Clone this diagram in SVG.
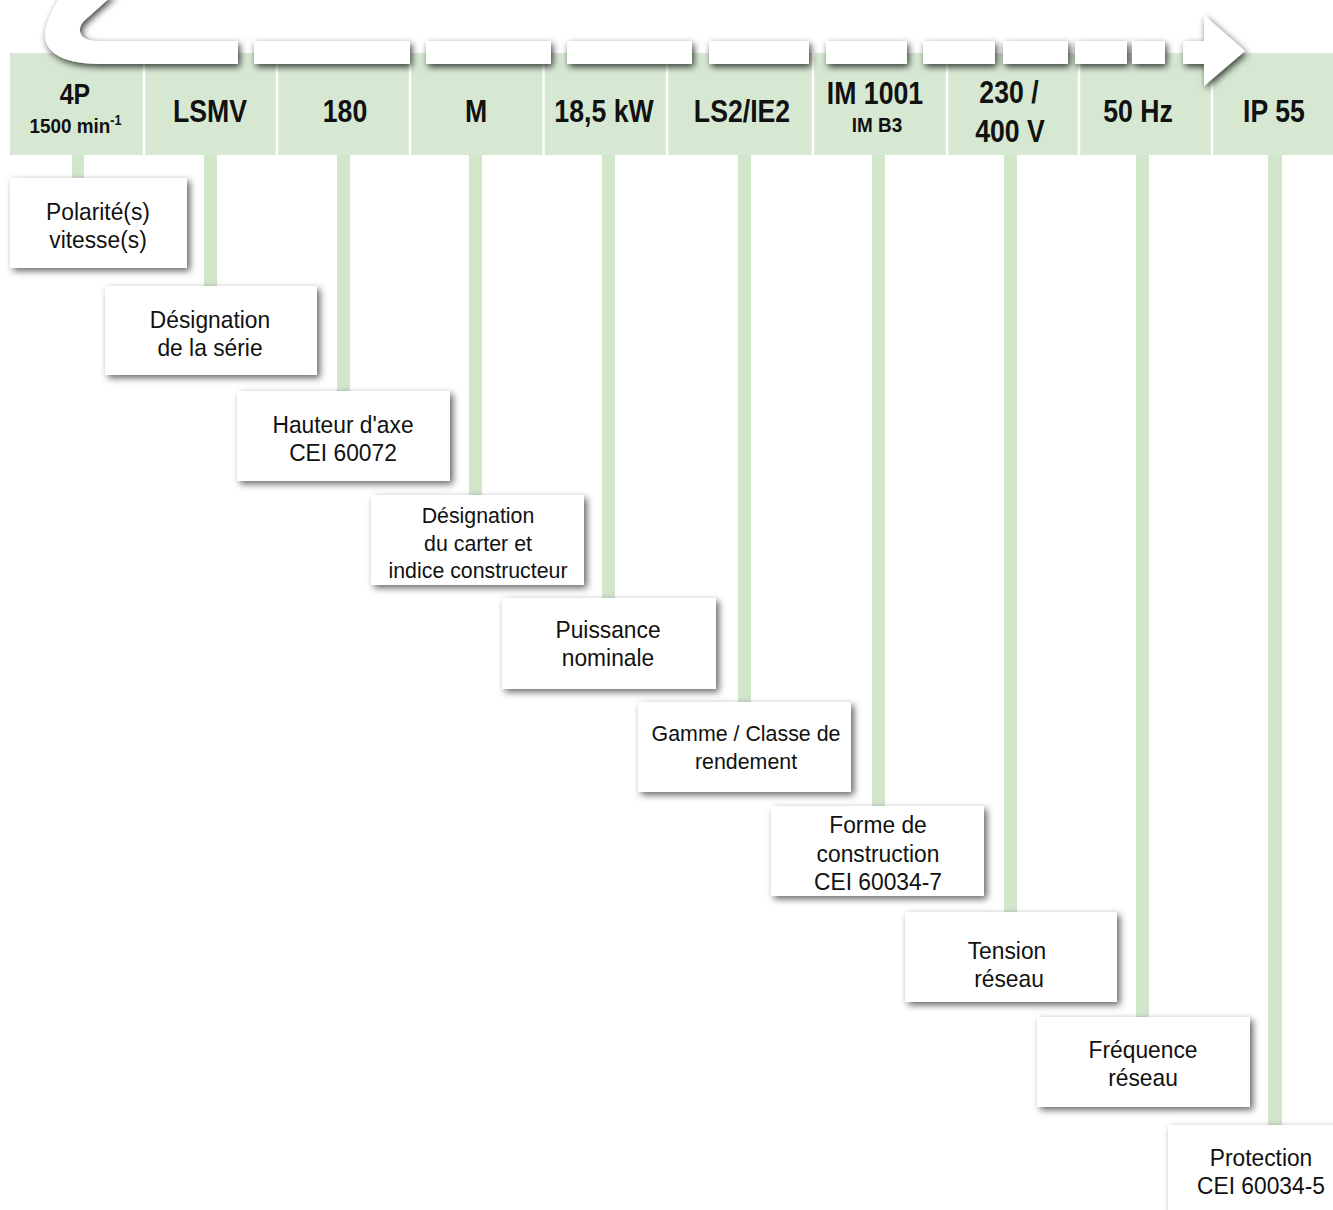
<svg xmlns="http://www.w3.org/2000/svg" width="1333" height="1210" viewBox="0 0 1333 1210">
<defs>
<filter id="sh" x="-20%" y="-40%" width="140%" height="180%">
<feDropShadow dx="3" dy="3" stdDeviation="3.5" flood-color="#000" flood-opacity="0.6"/>
</filter>
<filter id="sha" x="-20%" y="-80%" width="140%" height="260%">
<feDropShadow dx="2" dy="3" stdDeviation="3.5" flood-color="#000" flood-opacity="0.75"/>
</filter>
<style>
.cell{fill:#d6e8d2}
.sep{stroke:#ffffff;stroke-width:2.5}
.bar{fill:#d2e6cc}
.box{fill:#ffffff;filter:url(#sh)}
.seg{fill:#ffffff}
.h{font-family:"Liberation Sans",Arial,sans-serif;font-weight:bold;font-size:31px;fill:#111;text-anchor:middle}
.hs{font-family:"Liberation Sans",Arial,sans-serif;font-weight:bold;font-size:21px;fill:#111;text-anchor:middle}
.t{font-family:"Liberation Sans",Arial,sans-serif;font-size:24px;fill:#111;text-anchor:middle}
.ts{font-family:"Liberation Sans",Arial,sans-serif;font-size:22px;fill:#111;text-anchor:middle}
</style>
</defs>
<rect width="1333" height="1210" fill="#ffffff"/>

<g id="header">
<rect class="cell" x="10" y="53" width="1323" height="102"/>
<line class="sep" x1="144" y1="53" x2="144" y2="155"/>
<line class="sep" x1="277" y1="53" x2="277" y2="155"/>
<line class="sep" x1="410" y1="53" x2="410" y2="155"/>
<line class="sep" x1="543.5" y1="53" x2="543.5" y2="155"/>
<line class="sep" x1="667" y1="53" x2="667" y2="155"/>
<line class="sep" x1="813" y1="53" x2="813" y2="155"/>
<line class="sep" x1="947" y1="53" x2="947" y2="155"/>
<line class="sep" x1="1079" y1="53" x2="1079" y2="155"/>
<line class="sep" x1="1212" y1="53" x2="1212" y2="155"/>
</g>

<g id="connectors">
<rect class="bar" x="72" y="155" width="12" height="25"/>
<rect class="bar" x="204" y="155" width="13" height="133"/>
<rect class="bar" x="337" y="155" width="13" height="238"/>
<rect class="bar" x="469" y="155" width="13" height="342"/>
<rect class="bar" x="602" y="155" width="13" height="445"/>
<rect class="bar" x="738" y="155" width="13" height="549"/>
<rect class="bar" x="872" y="155" width="13" height="653"/>
<rect class="bar" x="1004" y="155" width="13" height="759"/>
<rect class="bar" x="1136" y="155" width="13" height="864"/>
<rect class="bar" x="1268" y="155" width="14" height="972"/>
</g>

<g id="arrow" filter="url(#sha)">
<path class="seg" d="M 238,64 L 100,64 C 60,64 40,50 46,28 C 48,18 54,8 61,-6 L 114,-6 L 85,20 C 75,29 80,41 96,41 L 238,41 Z"/>
<rect class="seg" x="254" y="41" width="156" height="23"/>
<rect class="seg" x="426" y="41" width="125" height="23"/>
<rect class="seg" x="567" y="41" width="125" height="23"/>
<rect class="seg" x="709" y="41" width="100" height="23"/>
<rect class="seg" x="826" y="41" width="81" height="23"/>
<rect class="seg" x="923" y="41" width="72" height="23"/>
<rect class="seg" x="1003" y="41" width="65" height="23"/>
<rect class="seg" x="1075" y="41" width="52" height="23"/>
<rect class="seg" x="1132" y="41" width="33" height="23"/>
<path class="seg" d="M 1183,41 L 1204,41 L 1204,15 L 1245,51 L 1204,86 L 1204,64 L 1183,64 Z"/>
</g>

<g id="header-labels">
<g id="h-4p">
<text class="h" style="font-size:29px" transform="translate(75,104) scale(0.86,1)">4P</text>
<text class="hs" transform="translate(75.5,133) scale(0.9,1)">1500 min<tspan dy="-8" style="font-size:14px">-1</tspan></text>
</g>
<g id="h-lsmv"><text class="h" transform="translate(210,122) scale(0.86,1)">LSMV</text></g>
<g id="h-180"><text class="h" transform="translate(345,122) scale(0.86,1)">180</text></g>
<g id="h-m"><text class="h" transform="translate(476,122) scale(0.86,1)">M</text></g>
<g id="h-kw"><text class="h" transform="translate(604,122) scale(0.86,1)">18,5 kW</text></g>
<g id="h-ls2"><text class="h" transform="translate(742,122) scale(0.86,1)">LS2/IE2</text></g>
<g id="h-im">
<text class="h" transform="translate(875,104) scale(0.86,1)">IM 1001</text>
<text class="hs" transform="translate(877,132) scale(0.9,1)">IM B3</text>
</g>
<g id="h-v">
<text class="h" transform="translate(1009,103) scale(0.86,1)">230 /</text>
<text class="h" transform="translate(1010,142) scale(0.86,1)">400 V</text>
</g>
<g id="h-hz"><text class="h" transform="translate(1138,122) scale(0.86,1)">50 Hz</text></g>
<g id="h-ip"><text class="h" transform="translate(1274,122) scale(0.86,1)">IP 55</text></g>
</g>

<g id="n1">
<rect class="box" x="10" y="178" width="177" height="90"/>
<text class="t" transform="translate(98,220) scale(0.95,1)">Polarité(s)</text>
<text class="t" transform="translate(98,248) scale(0.95,1)">vitesse(s)</text>
</g>
<g id="n2">
<rect class="box" x="105" y="286" width="212" height="89"/>
<text class="t" transform="translate(210,328) scale(0.95,1)">Désignation</text>
<text class="t" transform="translate(210,356) scale(0.95,1)">de la série</text>
</g>
<g id="n3">
<rect class="box" x="237" y="391" width="213" height="90"/>
<text class="t" transform="translate(343,433) scale(0.95,1)">Hauteur d'axe</text>
<text class="t" transform="translate(343,461) scale(0.95,1)">CEI 60072</text>
</g>
<g id="n4">
<rect class="box" x="371" y="495" width="213" height="90"/>
<text class="ts" transform="translate(478,523) scale(0.97,1)">Désignation</text>
<text class="ts" transform="translate(478,551) scale(0.97,1)">du carter et</text>
<text class="ts" transform="translate(478,578) scale(0.97,1)">indice constructeur</text>
</g>
<g id="n5">
<rect class="box" x="502" y="598" width="214" height="91"/>
<text class="t" transform="translate(608,638) scale(0.95,1)">Puissance</text>
<text class="t" transform="translate(608,666) scale(0.95,1)">nominale</text>
</g>
<g id="n6">
<rect class="box" x="638" y="702" width="213" height="90"/>
<text class="ts" style="font-size:23px" transform="translate(746,741) scale(0.93,1)">Gamme / Classe de</text>
<text class="ts" style="font-size:23px" transform="translate(746,769) scale(0.93,1)">rendement</text>
</g>
<g id="n7">
<rect class="box" x="771" y="806" width="213" height="90"/>
<text class="t" transform="translate(878,833) scale(0.95,1)">Forme de</text>
<text class="t" transform="translate(878,862) scale(0.95,1)">construction</text>
<text class="t" transform="translate(878,890) scale(0.95,1)">CEI 60034-7</text>
</g>
<g id="n8">
<rect class="box" x="905" y="912" width="212" height="90"/>
<text class="t" transform="translate(1007,959) scale(0.95,1)">Tension</text>
<text class="t" transform="translate(1009,987) scale(0.95,1)">réseau</text>
</g>
<g id="n9">
<rect class="box" x="1037" y="1017" width="213" height="90"/>
<text class="t" transform="translate(1143,1058) scale(0.95,1)">Fréquence</text>
<text class="t" transform="translate(1143,1086) scale(0.95,1)">réseau</text>
</g>
<g id="n10">
<rect class="box" x="1168" y="1125" width="180" height="100"/>
<text class="t" transform="translate(1261,1166) scale(0.95,1)">Protection</text>
<text class="t" transform="translate(1261,1194) scale(0.95,1)">CEI 60034-5</text>
</g>
</svg>
